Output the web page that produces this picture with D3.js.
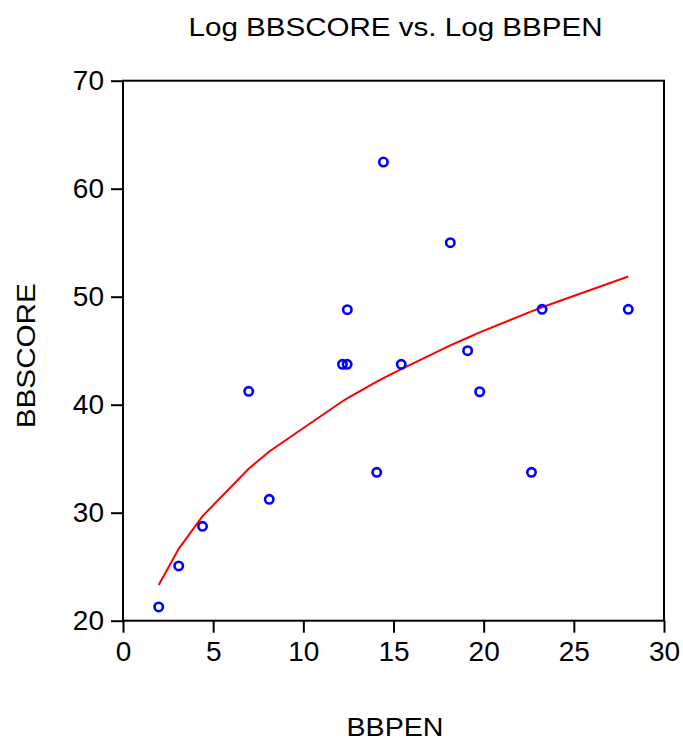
<!DOCTYPE html>
<html>
<head>
<meta charset="utf-8">
<script src="https://cdn.jsdelivr.net/npm/d3@7/dist/d3.min.js"></script>
<style>
  body { margin: 0; background: #fff; }
  svg text { font-family: "Liberation Sans", Arial, sans-serif; fill: #000; }
</style>
</head>
<body>
<div id="chart"></div>
<script>
/*
 * Observed data: BBPEN vs. BBSCORE.
 */
var bbpen   = [1.98, 3.09, 4.41, 6.97, 8.11, 12.17, 12.43, 12.44, 14.07, 14.44, 15.43, 18.15, 19.11, 19.78, 22.65, 23.24, 28.02];
var bbscore = [21.27, 25.07, 28.74, 41.24, 31.24, 43.74, 43.74, 48.8, 33.74, 62.47, 43.74, 55.0, 45.0, 41.2, 33.74, 48.83, 48.83];
/*
 * Fitted (log-log) line.
 */
var fitX = [1.98, 3.09, 4.41, 6.97, 8.11, 12.17, 12.43, 14.07, 14.44, 15.43, 18.15, 19.11, 19.78, 22.65, 23.24, 28.02];
var fitY = [23.3, 26.65, 29.68, 34.07, 35.67, 40.32, 40.58, 42.13, 42.46, 43.29, 45.5, 46.2, 46.69, 48.64, 49.02, 51.87];
/*
 * Axis ticks.
 */
var xTicks = [0, 5, 10, 15, 20, 25, 30];
var yTicks = [20, 30, 40, 50, 60, 70];

var width = 683, height = 740;
var margin = {top: 80.7, right: 19, bottom: 119.3, left: 123};

var svg = d3.select('#chart').append('svg')
    .attr('width', width)
    .attr('height', height);

var x = d3.scaleLinear().domain([0, 30]).range([margin.left, width - margin.right]);
var y = d3.scaleLinear().domain([20, 70]).range([height - margin.bottom, margin.top]);

/*
 * Title and axis labels.
 */
svg.append('text')
    .attr('x', 395.5)
    .attr('y', 36)
    .attr('text-anchor', 'middle')
    .attr('font-size', 26)
    .attr('textLength', 414)
    .attr('lengthAdjust', 'spacingAndGlyphs')
    .text('Log BBSCORE vs. Log BBPEN');

svg.append('text')
    .attr('x', 395)
    .attr('y', 736)
    .attr('text-anchor', 'middle')
    .attr('font-size', 26)
    .attr('textLength', 97)
    .attr('lengthAdjust', 'spacingAndGlyphs')
    .text('BBPEN');

svg.append('text')
    .attr('transform', 'translate(35,355.7) rotate(-90)')
    .attr('text-anchor', 'middle')
    .attr('font-size', 26)
    .attr('textLength', 145)
    .attr('lengthAdjust', 'spacingAndGlyphs')
    .text('BBSCORE');

/*
 * Axes.
 */
var xAxis = svg.append('g')
    .attr('transform', 'translate(0,' + (height - margin.bottom) + ')')
    .call(d3.axisBottom(x).tickValues(xTicks).tickSize(12).tickPadding(8).tickSizeOuter(0));

var yAxis = svg.append('g')
    .attr('transform', 'translate(' + margin.left + ',0)')
    .call(d3.axisLeft(y).tickValues(yTicks).tickSize(12).tickPadding(7).tickSizeOuter(0));

[xAxis, yAxis].forEach(function(g) {
    g.select('.domain').remove();
    g.selectAll('line').attr('stroke', '#000').attr('stroke-width', 2);
    g.selectAll('text')
        .attr('font-size', 28)
        .attr('font-family', '"Liberation Sans", Arial, sans-serif')
        .attr('fill', '#000');
});

/*
 * Frame.
 */
svg.append('rect')
    .attr('x', x(0))
    .attr('y', y(70))
    .attr('width', x(30) - x(0))
    .attr('height', y(20) - y(70))
    .attr('fill', 'none')
    .attr('stroke', '#000')
    .attr('stroke-width', 2);

/*
 * Fitted line.
 */
var line = d3.line()
    .x(function(d, i) { return x(fitX[i]); })
    .y(function(d) { return y(d); });

svg.append('path')
    .datum(fitY)
    .attr('d', line)
    .attr('fill', 'none')
    .attr('stroke', '#ff0000')
    .attr('stroke-width', 2);

/*
 * Points.
 */
svg.append('g').selectAll('circle')
    .data(bbpen)
    .join('circle')
    .attr('cx', function(d) { return x(d); })
    .attr('cy', function(d, i) { return y(bbscore[i]); })
    .attr('r', 4.2)
    .attr('fill', 'none')
    .attr('stroke', '#0000ff')
    .attr('stroke-width', 2.6);
</script>
</body>
</html>
